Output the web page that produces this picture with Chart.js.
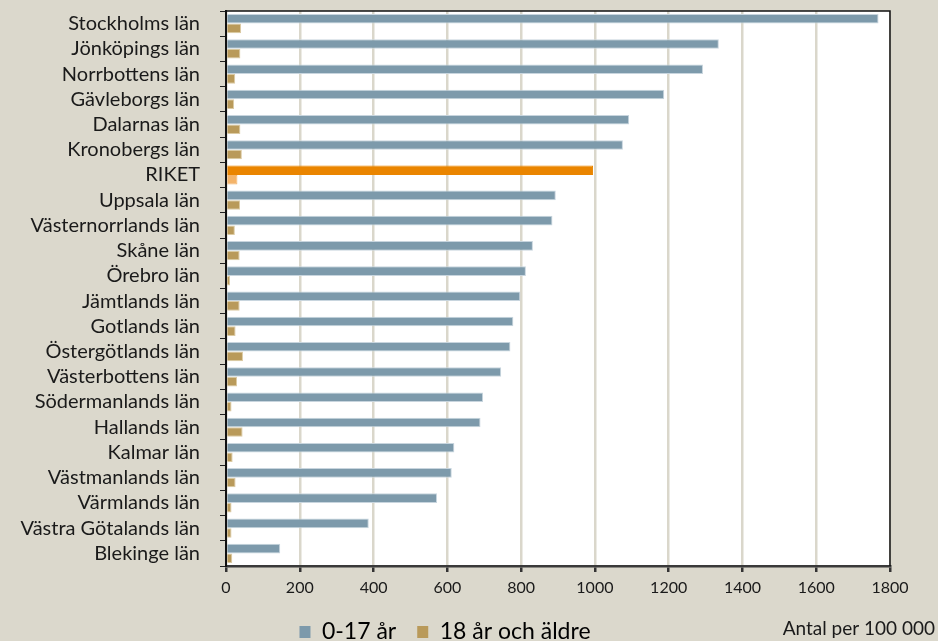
<!DOCTYPE html>
<html>
<head>
<meta charset="utf-8">
<script src="https://cdn.jsdelivr.net/npm/chart.js@4.4.1/dist/chart.umd.min.js"></script>
<style>
html,body{margin:0;padding:0;background:#dbd8cc;}
#wrap{width:938px;height:641px;position:relative;}
</style>
</head>
<body>
<div id="wrap"><canvas id="c" width="938" height="641"></canvas></div>
<script>
const categories = ["Stockholms län","Jönköpings län","Norrbottens län","Gävleborgs län","Dalarnas län","Kronobergs län","RIKET","Uppsala län","Västernorrlands län","Skåne län","Örebro län","Jämtlands län","Gotlands län","Östergötlands län","Västerbottens län","Södermanlands län","Hallands län","Kalmar län","Västmanlands län","Värmlands län","Västra Götalands län","Blekinge län"];
const youth = [1769,1336,1293,1188,1093,1076,995,894,885,832,813,798,779,771,746,697,690,619,612,572,387,147];
const adults = [41,39,25,22,39,43,31,38,24,37,11,37,26,46,30,15,45,18,26,15,15,17];
const xTicks = [0,200,400,600,800,1000,1200,1400,1600,1800];
const seriesNames = ["0-17 år","18 år och äldre"];
const unitText = "Antal per 100 000";

const FONT = "Lato";
const blue = "#7d9aab", gold = "#b99a5a", orange = "#ea8500", lightOrange = "#f4b46a";
const isRiket = c => c === "RIKET";

const bgPlugin = {
  id: "bg",
  beforeDraw(chart) {
    const {ctx, chartArea: a} = chart;
    ctx.save();
    ctx.fillStyle = "#ffffff";
    ctx.fillRect(a.left, a.top, a.right - a.left, a.bottom - a.top);
    ctx.restore();
  },
  afterDraw(chart) {
    const {ctx, chartArea: a} = chart;
    ctx.save();
    ctx.strokeStyle = "#111";
    ctx.lineWidth = 1.5;
    ctx.beginPath();
    ctx.moveTo(a.left, a.top);
    ctx.lineTo(a.right, a.top);
    ctx.lineTo(a.right, a.bottom);
    ctx.stroke();
    ctx.fillStyle = "#1a1a1a";
    ctx.font = "19px " + FONT;
    ctx.textAlign = "right";
    ctx.textBaseline = "middle";
    ctx.fillText(unitText, 935, 629);
    ctx.restore();
  }
};

new Chart(document.getElementById("c"), {
  type: "bar",
  data: {
    labels: categories,
    datasets: [
      {
        label: seriesNames[0],
        data: youth,
        backgroundColor: categories.map(c => isRiket(c) ? orange : blue),
        borderColor: categories.map(c => isRiket(c) ? orange : "#c8d5de"),
        borderWidth: 1,
        borderSkipped: "start"
      },
      {
        label: seriesNames[1],
        data: adults,
        backgroundColor: categories.map(c => isRiket(c) ? lightOrange : gold),
        borderColor: categories.map(c => isRiket(c) ? lightOrange : "#dccba4"),
        borderWidth: 1,
        borderSkipped: "start"
      }
    ]
  },
  options: {
    indexAxis: "y",
    responsive: false,
    animation: false,
    devicePixelRatio: 1,
    layout: { padding: { top: 11, right: 48, left: 0, bottom: -12.5 } },
    datasets: { bar: { categoryPercentage: 0.76, barPercentage: 1 } },
    scales: {
      x: {
        min: 0, max: 1800,
        afterBuildTicks(scale) { scale.ticks = xTicks.map(v => ({value: v})); },
        afterFit(scale) { scale.height = 33.5; scale.paddingLeft = 0; scale.paddingRight = 0; },
        grid: { color: "#dad7cb", lineWidth: 2.5, tickColor: "#333", tickLength: 6, drawTicks: true },
        border: { color: "#3a3a3a", width: 2.5 },
        ticks: { color: "#1a1a1a", font: { family: FONT, size: 16 }, padding: 6, maxRotation: 0,
                 format: { useGrouping: false } }
      },
      y: {
        afterFit(scale) { scale.width = 226; scale.paddingTop = 0; scale.paddingBottom = 0; },
        grid: { drawOnChartArea: false, tickColor: "#222", tickLength: 6, offset: true },
        border: { color: "#111", width: 2 },
        ticks: { color: "#1a1a1a", font: { family: FONT, size: 20 }, padding: 20, autoSkip: false }
      }
    },
    plugins: {
      legend: {
        position: "bottom",
        labels: {
          color: "#1a1a1a",
          font: { family: FONT, size: 23 },
          boxWidth: 11, boxHeight: 12,
          padding: 21,
          generateLabels(chart) {
            return chart.data.datasets.map((d, i) => ({
              text: d.label,
              fillStyle: i === 0 ? blue : gold,
              strokeStyle: i === 0 ? blue : gold,
              lineWidth: 0,
              datasetIndex: i,
              hidden: false
            }));
          }
        }
      },
      tooltip: { enabled: false }
    }
  },
  plugins: [bgPlugin]
});
</script>
</body>
</html>
